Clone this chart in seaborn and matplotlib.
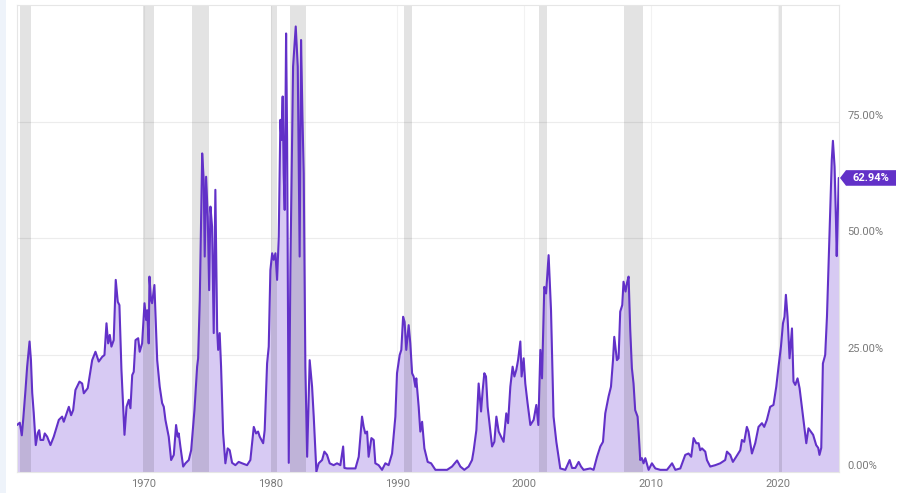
import matplotlib
matplotlib.use("Agg")
import matplotlib.pyplot as plt
import seaborn as sns
import pandas as pd
from matplotlib.patches import Polygon, Rectangle
from matplotlib.transforms import ScaledTranslation, IdentityTransform

# ---------------- data ----------------
years = [
    1960.00, 1960.22, 1960.38, 1960.49, 1960.67, 1960.80, 1960.99, 1961.10, 1961.20, 1961.32,
    1961.48, 1961.64, 1961.75, 1961.85, 1962.07, 1962.19, 1962.38, 1962.64, 1962.90, 1963.30,
    1963.56, 1963.69, 1964.09, 1964.27, 1964.43, 1964.61, 1964.93, 1965.14, 1965.27, 1965.58,
    1965.93, 1966.19, 1966.45, 1966.72, 1966.90, 1967.06, 1967.19, 1967.32, 1967.45, 1967.63,
    1967.79, 1967.95, 1968.08, 1968.24, 1968.48, 1968.64, 1968.82, 1968.95, 1969.09, 1969.21,
    1969.35, 1969.56, 1969.68, 1969.87, 1970.06, 1970.19, 1970.27, 1970.39, 1970.45, 1970.57,
    1970.66, 1970.84, 1971.06, 1971.26, 1971.45, 1971.58, 1971.71, 1971.97, 1972.16, 1972.37,
    1972.55, 1972.68, 1972.76, 1972.89, 1973.11, 1973.29, 1973.55, 1973.74, 1974.00, 1974.21,
    1974.29, 1974.42, 1974.61, 1974.73, 1974.81, 1974.92, 1975.05, 1975.16, 1975.26, 1975.39,
    1975.52, 1975.65, 1975.79, 1975.87, 1975.99, 1976.10, 1976.26, 1976.44, 1976.62, 1976.78,
    1976.97, 1977.23, 1977.49, 1977.76, 1978.15, 1978.41, 1978.68, 1978.86, 1979.02, 1979.15,
    1979.42, 1979.54, 1979.73, 1979.86, 1979.99, 1980.13, 1980.25, 1980.39, 1980.52, 1980.65,
    1980.78, 1980.86, 1980.96, 1981.04, 1981.12, 1981.23, 1981.31, 1981.44, 1981.57, 1981.78,
    1981.99, 1982.15, 1982.30, 1982.41, 1982.52, 1982.62, 1982.75, 1982.89, 1983.09, 1983.28,
    1983.41, 1983.62, 1983.80, 1984.07, 1984.25, 1984.46, 1984.67, 1984.98, 1985.25, 1985.51,
    1985.73, 1985.83, 1986.04, 1986.30, 1986.70, 1986.96, 1987.22, 1987.35, 1987.48, 1987.62,
    1987.74, 1987.96, 1988.14, 1988.27, 1988.53, 1988.80, 1989.06, 1989.32, 1989.59, 1989.85,
    1989.98, 1990.19, 1990.32, 1990.46, 1990.58, 1990.71, 1990.90, 1991.03, 1991.17, 1991.29,
    1991.43, 1991.50, 1991.69, 1991.82, 1991.96, 1992.14, 1992.40, 1992.67, 1993.01, 1993.40,
    1993.93, 1994.32, 1994.72, 1994.98, 1995.29, 1995.63, 1995.90, 1996.03, 1996.24, 1996.42,
    1996.61, 1996.74, 1996.87, 1997.00, 1997.13, 1997.34, 1997.48, 1997.66, 1997.82, 1998.00,
    1998.19, 1998.39, 1998.60, 1998.74, 1998.92, 1999.10, 1999.24, 1999.39, 1999.53, 1999.71,
    1999.81, 1999.97, 2000.10, 2000.28, 2000.50, 2000.76, 2000.97, 2001.13, 2001.29, 2001.42,
    2001.60, 2001.74, 2001.94, 2002.13, 2002.33, 2002.55, 2002.65, 2002.86, 2003.26, 2003.60,
    2003.79, 2004.05, 2004.31, 2004.50, 2004.70, 2005.23, 2005.49, 2005.76, 2006.02, 2006.23,
    2006.41, 2006.67, 2006.86, 2007.02, 2007.12, 2007.33, 2007.46, 2007.59, 2007.75, 2007.85,
    2008.01, 2008.12, 2008.25, 2008.38, 2008.51, 2008.64, 2008.77, 2008.96, 2009.04, 2009.17,
    2009.30, 2009.43, 2009.57, 2009.83, 2010.09, 2010.36, 2010.75, 2011.28, 2011.68, 2011.94,
    2012.33, 2012.72, 2012.98, 2013.19, 2013.38, 2013.59, 2013.77, 2013.90, 2014.04, 2014.30,
    2014.43, 2014.69, 2015.09, 2015.48, 2015.87, 2016.01, 2016.27, 2016.48, 2016.74, 2017.06,
    2017.19, 2017.37, 2017.58, 2017.71, 2017.98, 2018.24, 2018.50, 2018.77, 2018.95, 2019.16,
    2019.42, 2019.68, 2019.90, 2020.08, 2020.27, 2020.43, 2020.55, 2020.66, 2020.79, 2020.95,
    2021.14, 2021.26, 2021.40, 2021.58, 2021.74, 2021.92, 2022.11, 2022.27, 2022.44, 2022.63,
    2022.81, 2023.05, 2023.21, 2023.31, 2023.45, 2023.58, 2023.76, 2023.90, 2024.02, 2024.16,
    2024.28, 2024.37, 2024.50, 2024.61, 2024.67, 2024.83,
]
values = [
    10.0, 10.5, 7.8, 11.2, 17.5, 22.5, 27.9, 23.9, 16.9, 12.6,
    5.7, 8.3, 8.9, 6.8, 6.8, 8.2, 7.5, 5.7, 7.5, 11.1,
    11.8, 10.7, 13.9, 12.1, 13.2, 17.5, 19.3, 18.9, 16.8, 17.9,
    23.9, 25.7, 23.6, 24.6, 25.0, 31.8, 27.5, 29.3, 26.8, 28.2,
    41.1, 36.4, 35.7, 21.8, 7.9, 13.9, 15.4, 13.6, 20.7, 21.4,
    28.2, 28.6, 25.7, 27.5, 36.1, 32.5, 34.6, 27.5, 41.8, 36.8,
    36.1, 40.0, 23.9, 18.2, 14.7, 13.9, 11.1, 7.5, 2.5, 3.6,
    10.0, 7.5, 8.2, 5.4, 1.1, 1.8, 2.5, 4.6, 13.2, 22.5,
    24.3, 36.8, 68.2, 62.5, 46.1, 63.2, 54.6, 38.9, 56.8, 52.5,
    29.7, 60.4, 30.4, 26.1, 29.7, 22.5, 8.3, 1.8, 5.0, 4.6,
    1.9, 1.4, 2.1, 1.8, 1.4, 2.5, 9.6, 8.2, 8.6, 7.5,
    6.1, 8.9, 23.2, 26.8, 43.2, 46.8, 45.4, 46.8, 41.1, 50.4,
    75.4, 71.1, 80.4, 63.9, 56.1, 93.9, 71.1, 1.9, 43.9, 86.8,
    95.4, 86.8, 46.1, 92.5, 76.1, 63.9, 22.5, 3.2, 23.9, 18.2,
    11.8, 0.0, 1.8, 2.5, 4.3, 3.6, 1.8, 1.4, 1.8, 1.4,
    5.4, 0.8, 0.7, 0.7, 0.7, 3.2, 11.8, 9.6, 8.2, 8.6,
    3.2, 7.2, 6.8, 1.8, 1.4, 0.4, 1.8, 1.4, 3.9, 11.8,
    21.1, 25.0, 26.1, 33.2, 32.1, 26.1, 31.4, 27.5, 21.1, 20.4,
    18.2, 20.0, 13.9, 8.6, 10.7, 5.0, 2.1, 1.8, 0.4, 0.4,
    0.4, 1.1, 2.4, 1.1, 0.4, 1.1, 2.5, 4.6, 8.9, 18.9,
    12.9, 17.5, 21.1, 20.4, 13.9, 8.9, 5.4, 6.4, 11.8, 8.6,
    7.5, 6.4, 12.5, 10.4, 18.2, 22.5, 20.4, 21.8, 23.9, 27.9,
    20.4, 24.3, 18.9, 14.7, 10.0, 11.1, 14.3, 10.0, 26.1, 20.0,
    39.6, 38.2, 46.4, 34.6, 11.8, 6.4, 4.6, 0.7, 0.4, 2.5,
    0.8, 0.8, 2.1, 1.1, 0.4, 0.7, 0.4, 3.2, 5.4, 6.4,
    12.5, 16.1, 18.2, 23.9, 28.9, 23.9, 24.3, 34.3, 35.7, 40.7,
    38.6, 40.4, 41.8, 30.4, 22.2, 18.9, 13.2, 11.8, 8.6, 2.5,
    2.9, 1.8, 2.9, 0.4, 1.8, 0.7, 0.4, 0.4, 1.8, 0.4,
    0.7, 3.6, 3.9, 3.2, 7.2, 6.1, 6.1, 4.6, 5.0, 4.3,
    2.5, 1.1, 1.4, 1.8, 2.5, 4.3, 3.6, 2.1, 3.2, 4.6,
    6.8, 6.4, 9.6, 8.6, 3.9, 6.1, 9.6, 10.4, 9.6, 11.1,
    13.9, 14.3, 18.2, 22.5, 26.8, 31.8, 33.2, 37.9, 33.2, 24.3,
    30.7, 19.3, 18.6, 20.0, 17.9, 13.9, 9.6, 6.1, 9.3, 8.6,
    7.9, 5.7, 5.1, 3.6, 5.1, 23.2, 25.0, 33.2, 43.9, 57.1,
    66.8, 70.9, 65.4, 53.9, 46.2, 62.94,
]
recession_start = [1960.25, 1969.92, 1973.83, 1980.00, 1981.50, 1990.50, 2001.17, 2007.92, 2020.08]
recession_end = [1961.08, 1970.83, 1975.17, 1980.50, 1982.83, 1991.17, 2001.83, 2009.42, 2020.33]
x_ticks = [1970, 1980, 1990, 2000, 2010, 2020]
y_ticks = [0, 25, 50, 75]
y_tick_labels = ["0.00%", "25.00%", "50.00%", "75.00%"]
last_label = "62.94%"

# ---------------- style ----------------
LINE = "#6231c8"
FILL = "#d7caf3"
TEXT = "#7a7a7a"
GRID = "#ececec"

sns.set_style("white")
plt.rcParams["font.family"] = ["Roboto", "DejaVu Sans"]

W, H = 907, 493
fig = plt.figure(figsize=(W / 100, H / 100), dpi=100)
fig.patch.set_facecolor("white")
# pale strip on the far left of the reference
fig.add_artist(Rectangle((0, 0), 6 / W, 1, transform=fig.transFigure,
                         facecolor="#eef3fa", edgecolor="none", zorder=0))

ax = fig.add_axes([17 / W, (H - 471.7) / H, (839 - 17) / W, (471.7 - 5) / H])

df = pd.DataFrame({"year": years, "value": values})

ax.fill_between(df["year"], 0, df["value"], color=FILL, linewidth=0, zorder=1)
for s, e in zip(recession_start, recession_end):
    ax.axvspan(s, e, color="black", alpha=0.11, linewidth=0, zorder=2)
sns.lineplot(data=df, x="year", y="value", ax=ax, color=LINE, linewidth=1.5,
             zorder=3, estimator=None, sort=False)

ax.set_xlim(1960.0, 2024.85)
ax.set_ylim(0, 100)

ax.set_xticks(x_ticks)
ax.set_xticklabels([str(t) for t in x_ticks])
ax.set_yticks(y_ticks)
ax.set_yticklabels(y_tick_labels)
ax.yaxis.tick_right()
ax.tick_params(axis="both", length=0, labelsize=8, colors=TEXT)
ax.tick_params(axis="x", pad=5)
ax.tick_params(axis="y", pad=6)
for lab in ax.get_yticklabels():
    lab.set_transform(lab.get_transform() + ScaledTranslation(0, 5 / 72, fig.dpi_scale_trans))

ax.grid(True, axis="y", color=GRID, linewidth=0.8, zorder=0)
ax.grid(True, axis="x", color="#f2f2f2", linewidth=0.8, zorder=0)
ax.set_axisbelow(True)
for sp in ax.spines.values():
    sp.set_visible(True)
    sp.set_color("#e6e6e6")
    sp.set_linewidth(0.8)
ax.set_xlabel("")
ax.set_ylabel("")

# last-value tag
fig.canvas.draw()
px, py = ax.transData.transform((ax.get_xlim()[1], values[-1]))
pts = [(px + 1, py), (px + 7, py + 7.8), (px + 57, py + 7.8),
       (px + 57, py - 7.8), (px + 7, py - 7.8)]
fig.add_artist(Polygon(pts, closed=True, transform=IdentityTransform(),
                       facecolor=LINE, edgecolor="none", zorder=5))
fig.text(px + 32, py, last_label, transform=IdentityTransform(), ha="center",
         va="center", color="white", fontsize=8, fontweight="bold", zorder=6)

fig.savefig("out.png", dpi=100)
